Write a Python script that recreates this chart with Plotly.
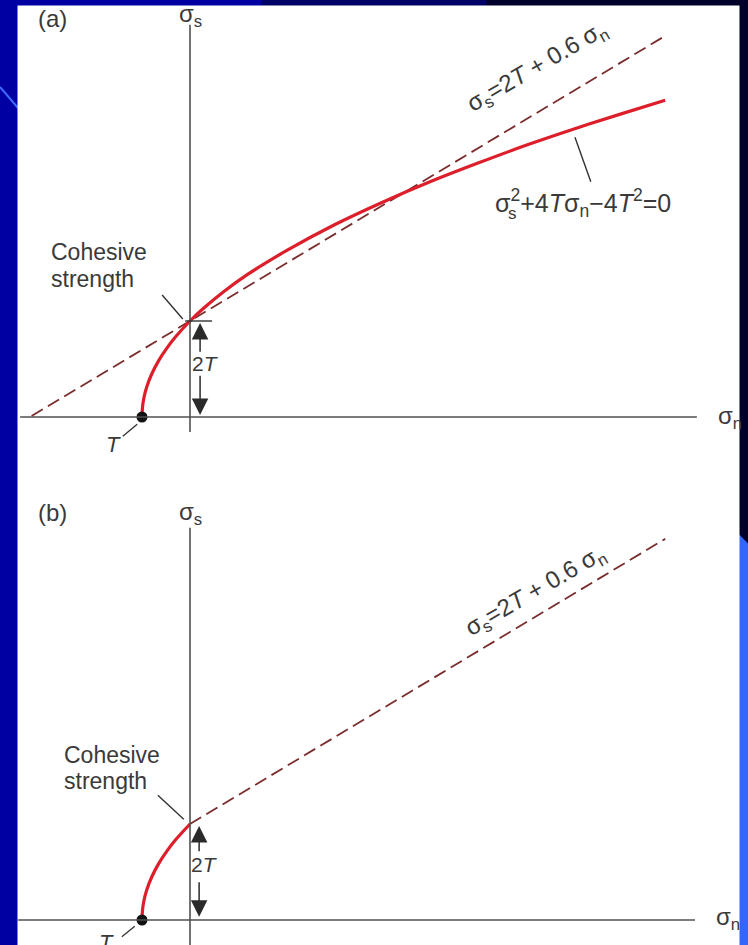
import plotly.graph_objects as go

# ---- data (stresses in units of T, tension plotted to the left) ----
# failure envelope sigma_s^2 + 4 T sigma_n - 4 T^2 = 0, panel (a)
sn_env_a = [-1.0, -0.99, -0.96, -0.9, -0.8, -0.65, -0.5, -0.3, 0.0, 0.3, 0.7, 1.2,
            2.0, 3.0, 4.0, 5.0, 6.0, 7.0, 8.0, 9.0, 9.9]
ss_env_a = [0.0, 0.2, 0.4, 0.63, 0.89, 1.18, 1.41, 1.67, 2.0, 2.28, 2.61, 2.97,
            3.46, 4.0, 4.47, 4.9, 5.29, 5.66, 6.0, 6.32, 6.6]
# tensile branch only, panel (b)
sn_env_b = [-1.0, -0.99, -0.96, -0.9, -0.8, -0.65, -0.5, -0.3, 0.0]
ss_env_b = [0.0, 0.2, 0.4, 0.63, 0.89, 1.18, 1.41, 1.67, 2.0]
# Coulomb line sigma_s = 2T + 0.6 sigma_n
sn_line_a = [-3.3, 9.9]
ss_line_a = [0.02, 7.94]
sn_line_b = [0.0, 9.9]
ss_line_b = [2.0, 7.94]
# tensile strength point and cohesive strength
sn_tensile = [-1.0]
ss_tensile = [0.0]
cohesion = 2.0

FONT = "Liberation Sans, Arial, Helvetica, sans-serif"
TXT = "#3a3a3a"
AX = "#505050"
RED = "#dc1f2a"
DASH = "#7b2d2d"

fig = go.Figure()

for sn, ss, yax in [(sn_line_a, ss_line_a, "y"), (sn_line_b, ss_line_b, "y2")]:
    fig.add_trace(go.Scatter(x=sn, y=ss, yaxis=yax, mode="lines",
                             line=dict(color=DASH, width=1.8, dash="13px,6px"),
                             hoverinfo="skip"))
for sn, ss, yax in [(sn_env_a, ss_env_a, "y"), (sn_env_b, ss_env_b, "y2")]:
    fig.add_trace(go.Scatter(x=sn, y=ss, yaxis=yax, mode="lines",
                             line=dict(color=RED, width=3.2, shape="spline", smoothing=1.0),
                             hoverinfo="skip"))
for yax in ["y", "y2"]:
    fig.add_trace(go.Scatter(x=sn_tensile, y=ss_tensile, yaxis=yax, mode="markers",
                             marker=dict(color="#111111", size=11), hoverinfo="skip"))

shapes = []
# slide background around the white panel
shapes += [
    dict(type="rect", xref="paper", yref="paper", x0=0, x1=1, y0=0, y1=1,
         fillcolor="#00002a", line_width=0, layer="below"),
    dict(type="rect", xref="paper", yref="paper", x0=0, x1=0.35, y0=0, y1=1,
         fillcolor="#0000a2", line_width=0, layer="below"),
    dict(type="rect", xref="paper", yref="paper", x0=0.35, x1=0.65, y0=0.99, y1=1,
         fillcolor="#000066", line_width=0, layer="below"),
    dict(type="path", xref="paper", yref="paper",
         path="M 0.985,0 L 1,0 L 1,0.425 L 0.985,0.437 Z",
         fillcolor="#3366ff", line_width=0, layer="below"),
    dict(type="line", xref="paper", yref="paper", x0=0, y0=1 - 87 / 945,
         x1=18 / 748, y1=1 - 108 / 945, line=dict(color="#3d6cff", width=2), layer="below"),
    dict(type="rect", xref="paper", yref="paper", x0=17.5 / 748, x1=739.5 / 748,
         y0=0, y1=1 - 5.5 / 945, fillcolor="white", line_width=0, layer="below"),
]

def seg(x0, y0, x1, y1, yref="y", color=AX, width=1.6):
    return dict(type="line", xref="x", yref=yref, x0=x0, y0=y0, x1=x1, y1=y1,
                line=dict(color=color, width=width))

# axes and leader lines, panel (a)
shapes += [
    seg(-3.54, 0, 10.56, 0), seg(0, 8.17, 0, -0.31),
    seg(-0.58, 2.54, -0.15, 2.04, color="#333333", width=1.4),
    seg(-0.10, cohesion, 0.46, cohesion, color="#333333", width=1.4),
    seg(-1.10, -0.15, -1.40, -0.40, color="#333333", width=1.3),
    seg(8.02, 5.83, 8.35, 4.90, color="#333333", width=1.4),
]
# axes and leader lines, panel (b)
shapes += [
    seg(-3.58, 0, 10.52, 0, "y2"), seg(0, 8.17, 0, -0.6, "y2"),
    seg(-0.67, 2.60, -0.13, 2.10, "y2", color="#333333", width=1.4),
    seg(-1.15, -0.13, -1.42, -0.35, "y2", color="#333333", width=1.3),
]

ann = []

def text(x, y, s, yref="y", size=23, xanchor="center", yanchor="middle", angle=0):
    ann.append(dict(x=x, y=y, xref="x", yref=yref, text=s, showarrow=False,
                    xanchor=xanchor, yanchor=yanchor, textangle=angle,
                    font=dict(family=FONT, size=size, color=TXT)))

def arrow(x, y_tip, y_tail, yref="y"):
    ann.append(dict(x=x, y=y_tip, ax=x, ay=y_tail, xref="x", yref=yref,
                    axref="x", ayref=yref, text="", showarrow=True,
                    arrowhead=2, arrowsize=2.2, arrowwidth=1.5, arrowcolor="#2a2a2a",
                    standoff=0, startstandoff=0))

eq_line = "σ<sub>s</sub>=2<i>T</i> + 0.6 σ<sub>n</sub>"

# panel (a)
text(-2.875, 8.31, "(a)", size=24)
text(0.02, 8.36, "σ<sub>s</sub>", size=24)
text(11.25, 0.0, "σ<sub>n</sub>", size=24)
text(-2.94, 3.44, "Cohesive", xanchor="left")
text(-2.94, 2.88, "strength", xanchor="left")
text(0.33, 1.12, "2<i>T</i>", size=21)
text(-1.6, -0.58, "<i>T</i>", size=22)
# envelope equation, with the subscript s set under the square
text(6.31, 4.46, "σ<sup>2</sup>+4<i>T</i>σ<sub>n</sub>−4<i>T</i><sup>2</sup>=0",
     size=25, xanchor="left")
text(6.72, 4.24, "s", size=17)
text(7.23, 7.28, eq_line, size=24, angle=-30)
arrow(0.21, 1.96, 1.33)
arrow(0.21, 0.04, 0.89)

# panel (b)
text(-2.875, 8.5, "(b)", "y2", size=24)
text(0.0, 8.46, "σ<sub>s</sub>", "y2", size=24)
text(11.2, 0.04, "σ<sub>n</sub>", "y2", size=24)
text(-2.67, 3.44, "Cohesive", "y2", xanchor="left")
text(-2.67, 2.9, "strength", "y2", xanchor="left")
text(0.30, 1.15, "2<i>T</i>", "y2", size=21)
text(-1.75, -0.46, "<i>T</i>", "y2", size=22)
text(7.2, 6.85, eq_line, "y2", size=24, angle=-30)
arrow(0.19, 1.96, 1.40, "y2")
arrow(0.19, 0.07, 0.82, "y2")

fig.update_layout(
    width=748, height=945, margin=dict(l=0, r=0, t=0, b=0),
    paper_bgcolor="#00002a", plot_bgcolor="rgba(0,0,0,0)", showlegend=False,
    xaxis=dict(range=[-190 / 48, 558 / 48], visible=False, domain=[0, 1]),
    yaxis=dict(range=[-528 / 48, 417 / 48], visible=False, domain=[0, 1]),
    yaxis2=dict(range=[-25 / 48, 920 / 48], visible=False, domain=[0, 1],
                overlaying="y", anchor="x"),
    shapes=shapes, annotations=ann,
)

fig.write_html("out.html")
